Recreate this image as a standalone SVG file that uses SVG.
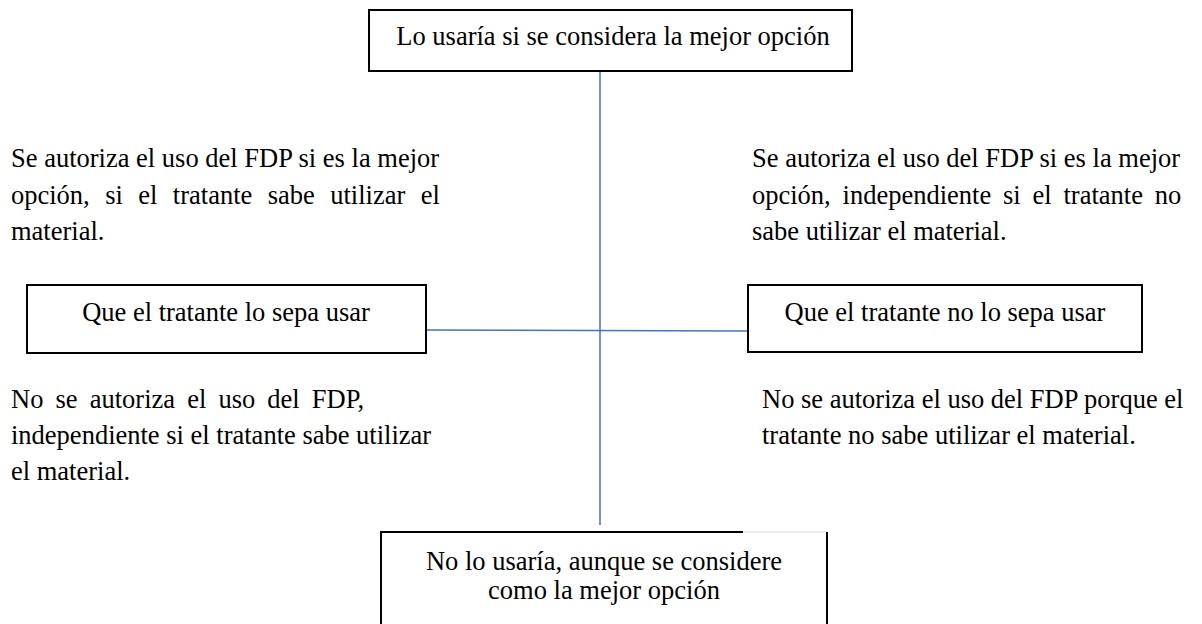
<svg xmlns="http://www.w3.org/2000/svg" width="1202" height="624" viewBox="0 0 1202 624">
<style>
text{font-family:"Liberation Serif","Times New Roman",serif;font-size:26.5px;fill:#000}
.box{fill:#fff;stroke:#000;stroke-width:2}
.c{text-anchor:middle}
.link{stroke:#4472C4;stroke-width:1.5;fill:none}
</style>
<rect width="1202" height="624" fill="#fff"/>
<g id="connectors">
<line class="link" x1="600" y1="72" x2="600" y2="525"/>
<line class="link" x1="426" y1="330" x2="748" y2="331"/>
</g>
<g id="top">
<rect class="box" x="369" y="10" width="483" height="61"/>
<text class="c" x="613" y="45">Lo usaría si se considera la mejor opción</text>
</g>
<g id="left">
<rect class="box" x="27" y="285" width="399" height="68"/>
<text class="c" x="226" y="321">Que el tratante lo sepa usar</text>
</g>
<g id="right">
<rect class="box" x="748" y="285" width="394" height="67"/>
<text class="c" x="945" y="321">Que el tratante no lo sepa usar</text>
</g>
<g id="bottom">
<path d="M381 624 V532 H743" fill="none" stroke="#000" stroke-width="2"/>
<path d="M743 532 H827" fill="none" stroke="#e6e6e6" stroke-width="1.5"/>
<path d="M827 532 V624" fill="none" stroke="#000" stroke-width="2"/>
<text class="c" x="604" y="570">No lo usaría, aunque se considere</text>
<text class="c" x="604" y="599">como la mejor opción</text>
</g>
<g id="text-top-left">
<text x="11" y="167">Se autoriza el uso del FDP si es la mejor</text>
<text x="11" y="204" word-spacing="8.8">opción, si el tratante sabe utilizar el</text>
<text x="11" y="240">material.</text>
</g>
<g id="text-top-right">
<text x="752" y="167">Se autoriza el uso del FDP si es la mejor</text>
<text x="752" y="204" word-spacing="5.2">opción, independiente si el tratante no</text>
<text x="752" y="240">sabe utilizar el material.</text>
</g>
<g id="text-bottom-left">
<text x="11" y="408" word-spacing="5.5">No se autoriza el uso del FDP,</text>
<text x="11" y="444">independiente si el tratante sabe utilizar</text>
<text x="11" y="480">el material.</text>
</g>
<g id="text-bottom-right">
<text x="762" y="408">No se autoriza el uso del FDP porque el</text>
<text x="762" y="444">tratante no sabe utilizar el material.</text>
</g>
</svg>
